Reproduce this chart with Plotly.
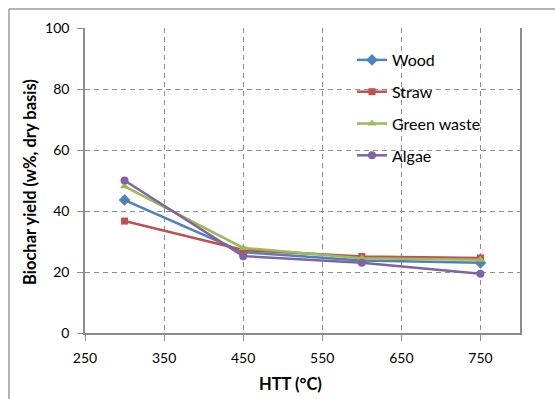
import plotly.graph_objects as go

# Heat treatment temperature (°C)
htt = [300, 450, 600, 750]

# Biochar yield (w%, dry basis) per feedstock
wood = [43.6, 26.5, 23.8, 23.0]
straw = [36.7, 27.2, 25.1, 24.6]
green_waste = [48.1, 27.9, 24.5, 24.0]
algae = [50.0, 25.2, 23.0, 19.4]

series = [
    ("Wood", wood, "#4F81BD", "diamond", 9),
    ("Straw", straw, "#C0504D", "square", 7),
    ("Green waste", green_waste, "#9BBB59", "triangle-up", 8),
    ("Algae", algae, "#8064A2", "circle", 8),
]

FONT = "Lato, 'Liberation Sans', sans-serif"

fig = go.Figure()
for name, vals, color, sym, size in series:
    fig.add_trace(go.Scatter(
        x=htt, y=vals, name=name, mode="lines+markers",
        legendgroup=name,
        line=dict(color=color, width=2.5),
        marker=dict(symbol=sym, size=size, color=color),
    ))

W, H = 555, 399
L, R, T, B = 85, 35, 28, 66
pw, ph = W - L - R, H - T - B


def px_x(x):
    return (x - L) / pw


def px_y(y):
    return 1 - (y - T) / ph


# outer chart frame (continues past the right and bottom edges)
fig.add_shape(type="line", xref="paper", yref="paper", x0=px_x(9), x1=px_x(9), y0=px_y(9), y1=-1,
              line=dict(color="#9a9a9a", width=1.5))
fig.add_shape(type="line", xref="paper", yref="paper", x0=px_x(9), x1=2, y0=px_y(9), y1=px_y(9),
              line=dict(color="#9a9a9a", width=1.5))

# axis titles
fig.add_annotation(text="<b>HTT (°C)</b>", xref="paper", yref="paper",
                   x=px_x(290), y=px_y(384), showarrow=False,
                   font=dict(size=16.5), xanchor="center", yanchor="middle")
fig.add_annotation(text="<b>Biochar yield (w%, dry basis)</b>", xref="paper", yref="paper",
                   x=px_x(30), y=px_y(182), showarrow=False, textangle=-90,
                   font=dict(size=16.5), xanchor="center", yanchor="middle")

grid = dict(showgrid=True, gridcolor="#8c8c8c", griddash="5px,4px", gridwidth=1)

fig.update_layout(
    width=W, height=H,
    margin=dict(l=L, r=R, t=T, b=B, autoexpand=False),
    paper_bgcolor="white", plot_bgcolor="white",
    font=dict(family=FONT, size=14, color="#000000"),
    showlegend=True,
    legend=dict(x=px_x(352), y=px_y(43), xanchor="left", yanchor="top",
                font=dict(size=16), tracegroupgap=8, bgcolor="rgba(0,0,0,0)",
                itemwidth=30),
    xaxis=dict(
        range=[250, 800], tick0=250, dtick=100,
        showline=True, linecolor="#8c8c8c", linewidth=1.5,
        ticks="outside", ticklen=6, tickcolor="#8c8c8c",
        ticklabelstandoff=5, automargin=False,
        zeroline=False, **grid,
    ),
    yaxis=dict(
        range=[0, 100], dtick=20,
        showline=True, linecolor="#8c8c8c", linewidth=1.5, mirror=True,
        ticks="outside", ticklen=6, tickcolor="#8c8c8c",
        ticklabelstandoff=5, automargin=False,
        zeroline=False, **grid,
    ),
)

fig.write_html("out.html")
